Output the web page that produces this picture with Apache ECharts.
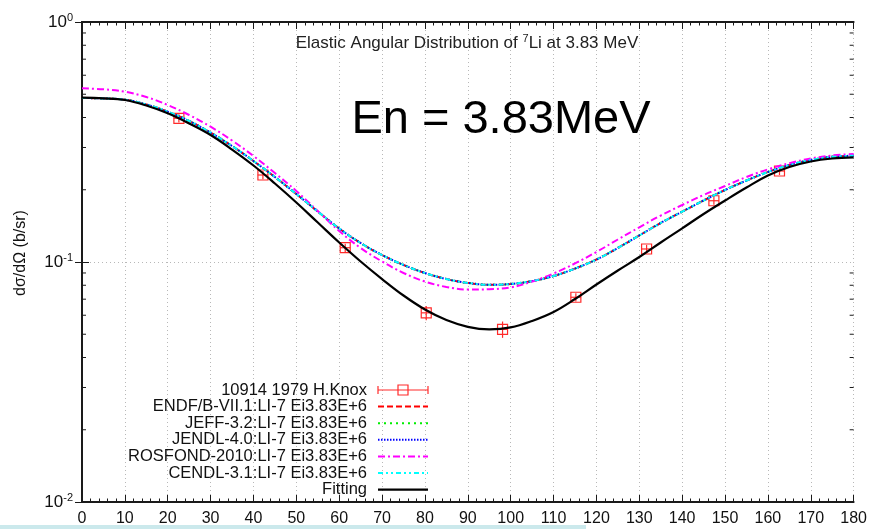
<!DOCTYPE html>
<html><head><meta charset="utf-8">
<script src="https://cdn.jsdelivr.net/npm/echarts@6/dist/echarts.min.js"></script>
<style>html,body{margin:0;padding:0;background:#fff}#c{width:870px;height:529px}</style>
</head><body><div id="c"></div>
<script>
// ---- data ----
const angles = [0,5,10,15,20,25,30,35,40,45,50,55,60,65,70,75,80,85,90,95,100,105,110,115,120,125,130,135,140,145,150,155,160,165,170,175,180];
const fitting = [0.4838,0.4810,0.4732,0.4488,0.4165,0.3777,0.3381,0.2942,0.2524,0.2124,0.1770,0.1461,0.1206,0.1005,0.0849,0.0725,0.0634,0.0573,0.0537,0.0524,0.0534,0.0568,0.0619,0.0701,0.0806,0.0922,0.1049,0.1206,0.1381,0.1585,0.1804,0.2044,0.2293,0.2488,0.2623,0.2700,0.2731];
const endf    = [0.4824,0.4801,0.4746,0.4532,0.4229,0.3869,0.3457,0.3043,0.2635,0.2260,0.1920,0.1624,0.1379,0.1200,0.1069,0.0972,0.0900,0.0849,0.0818,0.0804,0.0810,0.0833,0.0874,0.0939,0.1024,0.1144,0.1290,0.1454,0.1621,0.1804,0.1995,0.2185,0.2371,0.2536,0.2661,0.2744,0.2773];
const jeff    = [0.4824,0.4801,0.4746,0.4532,0.4229,0.3869,0.3457,0.3043,0.2635,0.2260,0.1920,0.1624,0.1379,0.1200,0.1069,0.0972,0.0900,0.0849,0.0818,0.0804,0.0810,0.0833,0.0874,0.0939,0.1024,0.1144,0.1290,0.1454,0.1621,0.1804,0.1995,0.2185,0.2371,0.2536,0.2661,0.2744,0.2773];
const jendl   = [0.4824,0.4801,0.4746,0.4532,0.4229,0.3869,0.3457,0.3043,0.2635,0.2260,0.1920,0.1624,0.1379,0.1200,0.1069,0.0972,0.0900,0.0849,0.0818,0.0804,0.0810,0.0833,0.0874,0.0939,0.1024,0.1144,0.1290,0.1454,0.1621,0.1804,0.1995,0.2185,0.2371,0.2536,0.2661,0.2744,0.2773];
const rosfond = [0.5294,0.5243,0.5124,0.4870,0.4510,0.4097,0.3662,0.3208,0.2765,0.2348,0.1976,0.1631,0.1346,0.1144,0.1005,0.0900,0.0829,0.0787,0.0768,0.0770,0.0784,0.0829,0.0896,0.0986,0.1101,0.1241,0.1395,0.1562,0.1728,0.1902,0.2073,0.2260,0.2433,0.2580,0.2700,0.2779,0.2818];
const cendl   = [0.4824,0.4801,0.4746,0.4532,0.4229,0.3869,0.3457,0.3043,0.2635,0.2260,0.1920,0.1624,0.1379,0.1200,0.1069,0.0972,0.0900,0.0849,0.0818,0.0804,0.0810,0.0833,0.0874,0.0939,0.1024,0.1144,0.1290,0.1454,0.1621,0.1804,0.1995,0.2185,0.2371,0.2536,0.2661,0.2744,0.2773];
const expAngles = [22.6,42.2,61.4,80.3,98.1,115.2,131.7,147.4,162.7];
const expValues = [0.397,0.2304,0.1147,0.0614,0.0524,0.0713,0.1133,0.180,0.2394];
const expErrors = [0.016,0.009,0.0045,0.0042,0.0041,0.0028,0.0045,0.007,0.009];
const expAngleErr = [1.2,1.2,1.2,1.2,1.2,1.2,1.2,1.2,1.2];
const yMinorTicks = [0.02,0.03,0.04,0.05,0.06,0.07,0.08,0.09,0.2,0.3,0.4,0.5,0.6,0.7,0.8,0.9];
const legendNames = ['10914 1979 H.Knox','ENDF/B-VII.1:LI-7 Ei3.83E+6','JEFF-3.2:LI-7 Ei3.83E+6','JENDL-4.0:LI-7 Ei3.83E+6','ROSFOND-2010:LI-7 Ei3.83E+6','CENDL-3.1:LI-7 Ei3.83E+6','Fitting'];
const chartTitle = ['Elastic Angular Distribution of ','7','Li at 3.83 MeV'];
const bigLabel = 'En = 3.83MeV';
const yName = 'dσ/dΩ (b/sr)';

// ---- styles ----
const FONT = '"Liberation Sans", Arial, Helvetica, sans-serif';
const AX = '#1a1a1a';
const styles = [
  {color:'#ff2a2a'},
  {color:'#ff0000', type:[6,3], width:2},
  {color:'#00ee00', type:[2,4], width:2},
  {color:'#0000ff', type:[1.5,1.5], width:2},
  {color:'#ff00ff', type:[7,3,2,3], width:2},
  {color:'#00ffff', type:[5,3,2,3,2,3], width:2},
  {color:'#000000', type:'solid', width:2.2}
];
const curves = [endf, jeff, jendl, rosfond, cendl, fitting];

function pair(vals){ return angles.map((a,i)=>[a, vals[i]]); }

const series = [];
// experimental points
series.push({
  name: legendNames[0], type:'custom', z:3,
  data: expAngles.map((a,i)=>[a, expValues[i], expErrors[i], expAngleErr[i]]),
  encode:{x:0, y:1},
  renderItem(params, api){
    const a = api.value(0), v = api.value(1), e = api.value(2), ea = api.value(3);
    const c = api.coord([a, v]);
    const top = api.coord([a, v + e]), bot = api.coord([a, v - e]);
    const lft = api.coord([a - ea, v]), rgt = api.coord([a + ea, v]);
    const st = {stroke: styles[0].color, lineWidth:1.2, fill:null};
    return {type:'group', children:[
      {type:'rect', shape:{x:c[0]-5, y:c[1]-5, width:10, height:10}, style:st},
      {type:'line', shape:{x1:c[0], y1:top[1], x2:c[0], y2:bot[1]}, style:st},
      {type:'line', shape:{x1:lft[0], y1:c[1], x2:rgt[0], y2:c[1]}, style:st}
    ]};
  }
});
curves.forEach((vals, k)=>{
  const s = styles[k+1];
  series.push({
    name: legendNames[k+1], type:'line', data: pair(vals), symbol:'none',
    smooth:0.4, z: 4+k,
    lineStyle:{color:s.color, width:s.width, type:s.type}
  });
});
// minor log ticks on left and right
series.push({
  type:'custom', silent:true, z:10,
  data: yMinorTicks.map(v=>[0, v]), encode:{x:0,y:1},
  renderItem(params, api){
    const v = api.value(1);
    const l = api.coord([0, v]), r = api.coord([180, v]);
    const st = {stroke:AX, lineWidth:1};
    return {type:'group', children:[
      {type:'line', shape:{x1:l[0], y1:l[1], x2:l[0]+4, y2:l[1]}, style:st},
      {type:'line', shape:{x1:r[0]-4, y1:r[1], x2:r[0], y2:r[1]}, style:st}
    ]};
  }
});

// ---- legend (drawn manually: right-aligned text, sample on the right) ----
const graphic = [];
const LX = 367, SX1 = 378, SX2 = 428, LY0 = 390, LDY = 16.6;
legendNames.forEach((n, i)=>{
  const y = LY0 + i*LDY;
  graphic.push({type:'text', x:LX, y:y, z:20, style:{text:n, fill:'#111', font:'16.5px '+FONT, textAlign:'right', align:'right', textVerticalAlign:'middle', verticalAlign:'middle'}});
  if (i === 0) {
    const st = {stroke:styles[0].color, lineWidth:1.2, fill:null};
    graphic.push({type:'line', z:20, shape:{x1:SX1, y1:y, x2:SX2, y2:y}, style:st});
    graphic.push({type:'line', z:20, shape:{x1:SX1, y1:y-4, x2:SX1, y2:y+4}, style:st});
    graphic.push({type:'line', z:20, shape:{x1:SX2, y1:y-4, x2:SX2, y2:y+4}, style:st});
    graphic.push({type:'rect', z:20, shape:{x:(SX1+SX2)/2-5, y:y-5, width:10, height:10}, style:st});
  } else {
    const s = styles[i];
    graphic.push({type:'line', z:20, shape:{x1:SX1, y1:y, x2:SX2, y2:y},
      style:{stroke:s.color, lineWidth:s.width, lineDash: Array.isArray(s.type)? s.type : null}});
  }
});
// title inside plot
graphic.push({type:'text', x:467, y:43, z:20, style:{
  text:'{a|'+chartTitle[0]+'}{s|'+chartTitle[1]+'}{a|'+chartTitle[2]+'}',
  textAlign:'center', align:'center', textVerticalAlign:'middle', verticalAlign:'middle',
  rich:{a:{fontSize:17, fontFamily:FONT, fill:'#222', color:'#222', lineHeight:20},
        s:{fontSize:11, fontFamily:FONT, fill:'#222', color:'#222', verticalAlign:'top', lineHeight:11}}
}});
// big annotation
graphic.push({type:'text', x:501, y:120, z:20, style:{text:bigLabel, fill:'#000', font:'47px '+FONT,
  textAlign:'center', align:'center', textVerticalAlign:'middle', verticalAlign:'middle'}});
// y axis name
graphic.push({type:'text', x:21, y:253, rotation:Math.PI/2, z:20, style:{text:yName, fill:'#111', font:'16px '+FONT,
  textAlign:'center', align:'center', textVerticalAlign:'middle', verticalAlign:'middle'}});
// light strip at the bottom edge of the picture
graphic.push({type:'rect', z:-1, shape:{x:0, y:525, width:586, height:4}, style:{fill:'#cbe9ec'}});

const gridLine = {show:true, lineStyle:{color:'#b8b8b8', type:[1,3], width:1}};
const xBase = {type:'value', min:0, max:180, interval:10,
  axisLine:{show:true, onZero:false, lineStyle:{color:AX, width:2}},
  axisTick:{show:true, inside:true, length:7, lineStyle:{color:AX, width:1}},
  minorTick:{show:true, splitNumber:5, length:3.5, lineStyle:{color:AX, width:1}}
};
const yBase = {type:'log', logBase:10, min:0.01, max:1,
  axisLine:{show:true, lineStyle:{color:AX, width:2}},
  axisTick:{show:true, inside:true, length:7, lineStyle:{color:AX, width:1}}
};

const option = {
  animation:false,
  backgroundColor:'#fff',
  grid:{left:82, right:16, top:22, bottom:27, containLabel:false},
  xAxis:[
    Object.assign({}, xBase, {position:'bottom', splitLine:gridLine,
      axisLabel:{color:'#111', fontSize:16, fontFamily:FONT, margin:9}}),
    Object.assign({}, xBase, {position:'top', splitLine:{show:false}, axisLabel:{show:false}})
  ],
  yAxis:[
    Object.assign({}, yBase, {position:'left', splitLine:gridLine,
      axisLabel:{margin:9, formatter:v=>'{b|10}{s|'+Math.round(Math.log10(v))+'}',
        rich:{b:{fontSize:17, fontFamily:FONT, color:'#111', lineHeight:20},
              s:{fontSize:11, fontFamily:FONT, color:'#111', verticalAlign:'top', lineHeight:11}}}}),
    Object.assign({}, yBase, {position:'right', splitLine:{show:false}, axisLabel:{show:false}})
  ],
  legend:{show:false},
  graphic: graphic,
  series: series
};
const chart = echarts.init(document.getElementById('c'), null, {renderer:'canvas'});
chart.setOption(option);
</script>
</body></html>
